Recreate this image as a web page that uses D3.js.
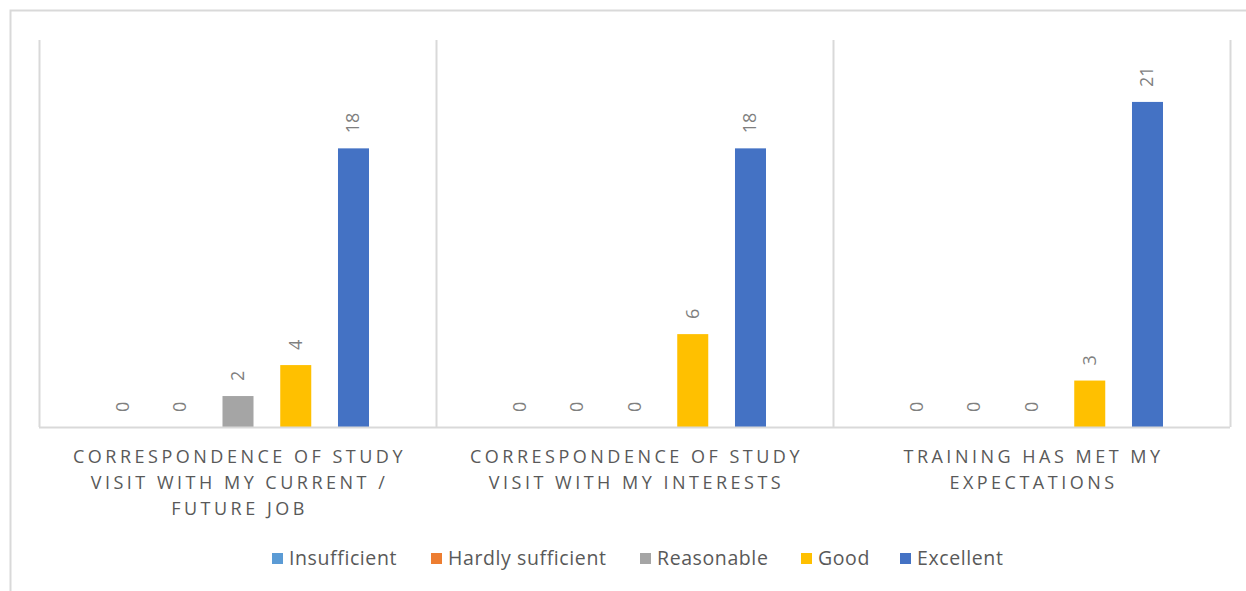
<!DOCTYPE html>
<html>
<head>
<meta charset="utf-8">
<script src="https://cdn.jsdelivr.net/npm/d3@7"></script>
<style>
  body { margin: 0; background: #fff; }
  text { font-family: "Open Sans", "Liberation Sans", sans-serif; fill: #595959; }
</style>
</head>
<body>
<svg id="chart"></svg>
<script>
// chart data
var categories = [
  ["CORRESPONDENCE OF STUDY", "VISIT WITH MY CURRENT /", "FUTURE JOB"],
  ["CORRESPONDENCE OF STUDY", "VISIT WITH MY INTERESTS"],
  ["TRAINING HAS MET MY", "EXPECTATIONS"]
];
var seriesNames = ["Insufficient", "Hardly sufficient", "Reasonable", "Good", "Excellent"];
var seriesColors = ["#5b9bd5", "#ed7d31", "#a5a5a5", "#ffc000", "#4472c4"];
var insufficient = [0, 0, 0];
var hardlySufficient = [0, 0, 0];
var reasonable = [2, 0, 0];
var good = [4, 6, 3];
var excellent = [18, 18, 21];

var values = [insufficient, hardlySufficient, reasonable, good, excellent];

var width = 1246, height = 591;
var svg = d3.select("#chart").attr("width", width).attr("height", height);

// outer frame
svg.append("rect")
    .attr("x", 10.5).attr("y", 10.5)
    .attr("width", width + 20).attr("height", height + 20)
    .attr("fill", "none").attr("stroke", "#d9d9d9").attr("stroke-width", 2);

var x0 = d3.scaleBand()
    .domain(d3.range(categories.length))
    .range([39, 1230]);

var x1 = d3.scaleBand()
    .domain(d3.range(seriesNames.length))
    .range([68, 330])
    .paddingInner(0.463);

var y = d3.scaleLinear()
    .domain([0, 25])
    .range([427, 40]);

// vertical separators
svg.append("g").selectAll("line")
    .data(d3.range(categories.length + 1))
  .enter().append("line")
    .attr("x1", function(d) { return Math.round(39 + d * x0.bandwidth()) + 0.5; })
    .attr("x2", function(d) { return Math.round(39 + d * x0.bandwidth()) + 0.5; })
    .attr("y1", y(25)).attr("y2", y(0))
    .attr("stroke", "#d9d9d9").attr("stroke-width", 2);

var groups = svg.append("g").selectAll("g")
    .data(d3.range(categories.length))
  .enter().append("g")
    .attr("transform", function(c) { return "translate(" + x0(c) + ",0)"; });

groups.selectAll("rect")
    .data(function(c) { return values.map(function(s, i) { return {s: i, v: s[c]}; }); })
  .enter().append("rect")
    .attr("x", function(d) { return x1(d.s); })
    .attr("width", x1.bandwidth())
    .attr("y", function(d) { return y(d.v); })
    .attr("height", function(d) { return y(0) - y(d.v); })
    .attr("fill", function(d) { return seriesColors[d.s]; });

groups.selectAll("text.val")
    .data(function(c) { return values.map(function(s, i) { return {s: i, v: s[c]}; }); })
  .enter().append("text")
    .attr("class", "val")
    .attr("transform", function(d) {
      return "translate(" + (x1(d.s) + x1.bandwidth() / 2 + 6) + "," + (y(d.v) - 15) + ") rotate(-90)";
    })
    .attr("text-anchor", "start")
    .style("font-size", "18px")
    .style("fill", "#7f7f7f")
    .text(function(d) { return d.v; });

// baseline
svg.append("line")
    .attr("x1", 39).attr("x2", 1230)
    .attr("y1", y(0) + 0.5).attr("y2", y(0) + 0.5)
    .attr("stroke", "#d9d9d9").attr("stroke-width", 2);

// category labels
groups.append("text")
    .attr("text-anchor", "middle")
    .style("font-size", "18px")
    .style("letter-spacing", "3.5px")
    .selectAll("tspan")
    .data(function(c) { return categories[c]; })
  .enter().append("tspan")
    .attr("x", x0.bandwidth() / 2 + 2)
    .attr("y", function(d, i) { return 463 + i * 26; })
    .text(function(d) { return d; });

// legend
var legendX = [272, 431, 640, 801, 900];
var legend = svg.append("g").selectAll("g")
    .data(seriesNames)
  .enter().append("g")
    .attr("transform", function(d, i) { return "translate(" + legendX[i] + ",553)"; });

legend.append("rect")
    .attr("width", 11).attr("height", 11)
    .attr("fill", function(d, i) { return seriesColors[i]; });

legend.append("text")
    .attr("x", 17).attr("y", 12)
    .style("font-size", "19.5px")
    .style("letter-spacing", "0.6px")
    .text(function(d) { return d; });
</script>
</body>
</html>
